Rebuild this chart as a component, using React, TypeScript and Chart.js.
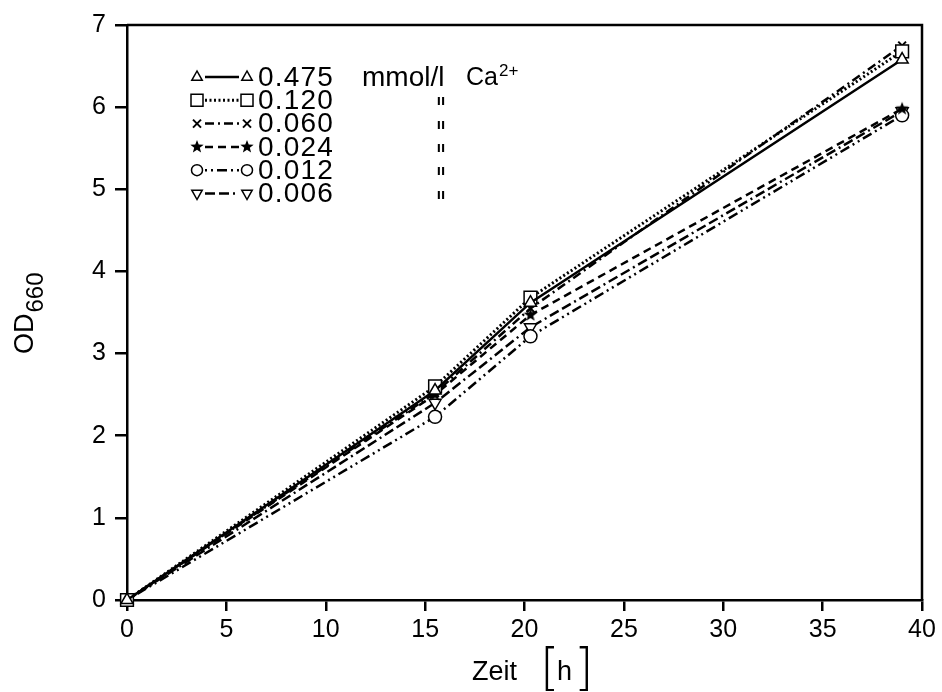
import React, { useEffect, useRef } from "react";
import { Chart, registerables } from "chart.js";

Chart.register(...registerables);

const hours = [0, 15.5, 20.3, 39];
const concentrations = ["0.475", "0.120", "0.060", "0.024", "0.012", "0.006"];
const od0475 = [0, 2.55, 3.62, 6.58];
const od0120 = [0, 2.6, 3.68, 6.68];
const od0060 = [0, 2.52, 3.55, 6.75];
const od0024 = [0, 2.5, 3.47, 5.98];
const od0012 = [0, 2.23, 3.21, 5.9];
const od0006 = [0, 2.4, 3.32, 5.95];
const xTicks = [0, 5, 10, 15, 20, 25, 30, 35, 40];
const yTicks = [0, 1, 2, 3, 4, 5, 6, 7];

const FONT = "'Liberation Sans', Arial, sans-serif";

function drawStar(ctx: CanvasRenderingContext2D, cx: number, cy: number, r: number) {
  ctx.save();
  ctx.beginPath();
  for (let i = 0; i < 10; i++) {
    const rad = i % 2 === 0 ? r : r * 0.42;
    const a = -Math.PI / 2 + (i * Math.PI) / 5;
    const px = cx + rad * Math.cos(a);
    const py = cy + rad * Math.sin(a);
    if (i === 0) ctx.moveTo(px, py);
    else ctx.lineTo(px, py);
  }
  ctx.closePath();
  ctx.fillStyle = "#000";
  ctx.fill();
  ctx.restore();
}

function makeStar(r: number): HTMLCanvasElement {
  const c = document.createElement("canvas");
  const s = Math.ceil(r * 2 + 2);
  c.width = s;
  c.height = s;
  const ctx = c.getContext("2d")!;
  drawStar(ctx, s / 2, s / 2, r);
  return c;
}

type Marker = "tri" | "rect" | "cross" | "star" | "circle" | "tridown";

function drawMarker(ctx: CanvasRenderingContext2D, m: Marker, x: number, y: number) {
  ctx.save();
  ctx.strokeStyle = "#000";
  ctx.fillStyle = "#fff";
  ctx.lineWidth = 1.5;
  ctx.setLineDash([]);
  ctx.beginPath();
  if (m === "tri" || m === "tridown") {
    const r = 6;
    const d = m === "tri" ? 1 : -1;
    ctx.moveTo(x, y - d * r);
    ctx.lineTo(x - r * 0.87, y + d * r * 0.55);
    ctx.lineTo(x + r * 0.87, y + d * r * 0.55);
    ctx.closePath();
    ctx.fill();
    ctx.stroke();
  } else if (m === "rect") {
    ctx.rect(x - 6, y - 6, 12, 12);
    ctx.fill();
    ctx.stroke();
  } else if (m === "cross") {
    ctx.lineWidth = 2;
    ctx.moveTo(x - 4, y - 4);
    ctx.lineTo(x + 4, y + 4);
    ctx.moveTo(x + 4, y - 4);
    ctx.lineTo(x - 4, y + 4);
    ctx.stroke();
  } else if (m === "circle") {
    ctx.arc(x, y, 5.5, 0, Math.PI * 2);
    ctx.fill();
    ctx.stroke();
  } else if (m === "star") {
    drawStar(ctx, x, y, 7);
  }
  ctx.restore();
}

const markers: Marker[] = ["tri", "rect", "cross", "star", "circle", "tridown"];
const dashes: number[][] = [[], [2, 2.5], [9, 4, 2, 4], [8, 5], [2, 4, 2, 4, 10, 4], [10, 4, 10, 4, 2, 4]];
const widths = [2.5, 3, 2.5, 2.5, 2.5, 2.5];

const overlayPlugin = {
  id: "overlay",
  afterDraw(chart: any) {
    const ctx: CanvasRenderingContext2D = chart.ctx;
    const a = chart.chartArea;
    ctx.save();
    ctx.strokeStyle = "#000";
    ctx.lineWidth = 2.5;
    ctx.setLineDash([]);
    ctx.beginPath();
    ctx.moveTo(a.left, a.top);
    ctx.lineTo(a.right, a.top);
    ctx.lineTo(a.right, a.bottom);
    ctx.stroke();

    // legend
    ctx.fillStyle = "#000";
    ctx.textBaseline = "middle";
    concentrations.forEach((c, i) => {
      const y = 77 + i * 23.3;
      ctx.save();
      ctx.strokeStyle = "#000";
      ctx.lineWidth = widths[i];
      ctx.setLineDash(dashes[i]);
      ctx.beginPath();
      ctx.moveTo(205, y);
      ctx.lineTo(239, y);
      ctx.stroke();
      ctx.restore();
      drawMarker(ctx, markers[i], 197, y);
      drawMarker(ctx, markers[i], 247, y);
      ctx.save();
      ctx.fillStyle = "#000";
      ctx.font = `28px ${FONT}`;
      (ctx as any).letterSpacing = "1.2px";
      ctx.textAlign = "left";
      ctx.fillText(c, 258, y + 1);
      ctx.restore();
      ctx.fillStyle = "#000";
      ctx.textAlign = "left";
      if (i === 0) {
        ctx.font = `28px ${FONT}`;
        ctx.fillText("mmol/l", 362, y + 1);
        ctx.font = `25px ${FONT}`;
        ctx.fillText("Ca", 466, y + 1);
        const w = ctx.measureText("Ca").width;
        ctx.font = `17px ${FONT}`;
        ctx.fillText("2+", 466 + w + 1, y - 6);
      } else {
        ctx.font = `bold 15px ${FONT}`;
        ctx.textAlign = "center";
        ctx.fillText("\u0131\u0131", 441, y + 1);
      }
    });

    // y title OD660
    ctx.save();
    ctx.translate(33, 354);
    ctx.rotate(-Math.PI / 2);
    ctx.textAlign = "left";
    ctx.textBaseline = "alphabetic";
    ctx.font = `27px ${FONT}`;
    ctx.fillText("OD", 0, 0);
    const wOD = ctx.measureText("OD").width;
    ctx.font = `24px ${FONT}`;
    ctx.fillText("660", wOD + 1, 10);
    ctx.restore();

    // x title Zeit [h]
    ctx.textAlign = "left";
    ctx.textBaseline = "alphabetic";
    ctx.font = `27px ${FONT}`;
    ctx.fillText("Zeit", 472, 680);
    ctx.font = `200 50px 'DejaVu Sans', sans-serif`;
    ctx.fillText("[", 540, 684);
    ctx.fillText("]", 574, 684);
    ctx.font = `27px ${FONT}`;
    ctx.fillText("h", 557, 680);
    ctx.restore();
  },
};

export default function App() {
  const ref = useRef<HTMLCanvasElement | null>(null);
  useEffect(() => {
    if (!ref.current) return;
    const star = makeStar(7);
    const series = [od0475, od0120, od0060, od0024, od0012, od0006];
    const pointStyles: any[] = ["triangle", "rect", "crossRot", star, "circle", "triangle"];
    const radii = [7, 9, 5.5, 7, 6.5, 7];
    const rotations = [0, 0, 0, 0, 0, 180];
    const datasets = series.map((vals, i) => ({
      label: concentrations[i],
      data: vals.map((v, j) => ({ x: hours[j], y: v })),
      borderColor: "#000",
      backgroundColor: "#fff",
      borderWidth: widths[i],
      borderDash: dashes[i],
      pointStyle: pointStyles[i],
      pointRadius: radii[i],
      pointRotation: rotations[i],
      pointBorderWidth: i === 2 ? 2 : 1.5,
      pointBorderColor: "#000",
      pointBackgroundColor: "#fff",
      tension: 0,
      clip: false as any,
    }));
    const chart = new Chart(ref.current, {
      type: "line",
      data: { datasets },
      options: {
        animation: false,
        responsive: false,
        events: [],
        layout: { padding: { left: 0, right: 20, top: 25, bottom: 0 } },
        plugins: { legend: { display: false }, tooltip: { enabled: false }, title: { display: false } },
        scales: {
          x: {
            type: "linear",
            min: 0,
            max: 40,
            afterFit: (s: any) => {
              s.height = 92;
            },
            afterBuildTicks: (s: any) => {
              s.ticks = xTicks.map((v) => ({ value: v }));
            },
            ticks: { color: "#000", font: { family: FONT, size: 25 }, padding: 4, maxRotation: 0 },
            grid: { drawOnChartArea: false, drawTicks: true, tickLength: 11, color: "#000", lineWidth: 2.5 },
            border: { color: "#000", width: 2.5 },
          },
          y: {
            type: "linear",
            min: 0,
            max: 7,
            afterFit: (s: any) => {
              s.width = 127;
            },
            afterBuildTicks: (s: any) => {
              s.ticks = yTicks.map((v) => ({ value: v }));
            },
            ticks: { color: "#000", font: { family: FONT, size: 25 }, padding: 9 },
            grid: { drawOnChartArea: false, drawTicks: true, tickLength: 12, color: "#000", lineWidth: 2.5 },
            border: { color: "#000", width: 2.5 },
          },
        },
      },
      plugins: [overlayPlugin],
    });
    return () => chart.destroy();
  }, []);
  return (
    <div style={{ position: "absolute", left: 0, top: 0, width: 942, height: 692, background: "#fff" }}>
      <canvas ref={ref} width={942} height={692} style={{ display: "block", width: 942, height: 692 }} />
    </div>
  );
}
